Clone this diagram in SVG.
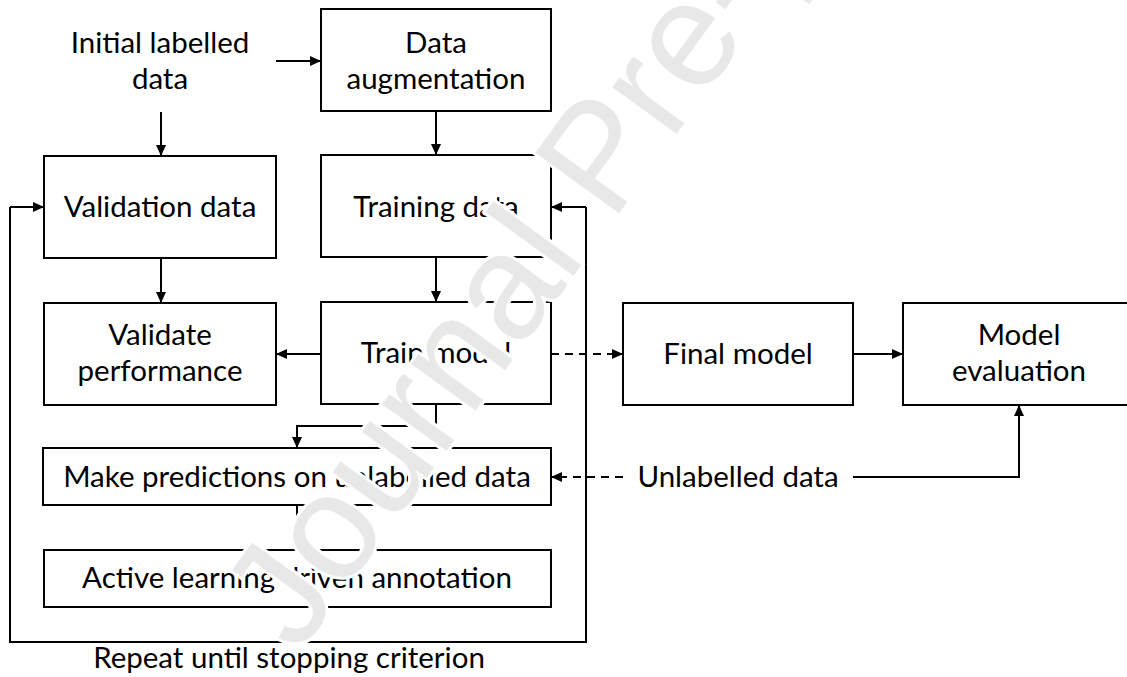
<svg xmlns="http://www.w3.org/2000/svg" width="1127" height="677" viewBox="0 0 1127 677">
  <defs>
    <marker id="arrow" markerUnits="userSpaceOnUse" markerWidth="11" markerHeight="10" refX="11" refY="5" orient="auto">
      <path d="M0,0 L11,5 L0,10 z" fill="#000"/>
    </marker>
    <style>
      .box { fill: #fff; stroke: #000; stroke-width: 2; }
      .lbl { font-family: Lato, "Liberation Sans", sans-serif; font-size: 29.5px; fill: #000; text-anchor: middle; }
      .edge { fill: none; stroke: #000; stroke-width: 2; marker-end: url(#arrow); }
      .plain { fill: none; stroke: #000; stroke-width: 2; }
      .dash { stroke-dasharray: 8 6; }
      .mark { font-family: "Liberation Sans", Arial, sans-serif; font-size: 150px; fill: #e8e8e8; stroke: #fff; stroke-width: 6; paint-order: stroke; }
    </style>
  </defs>
  <rect width="1127" height="677" fill="#fff"/>

  <!-- connectors -->
  <g id="connectors">
    <path class="edge" d="M276,61 H321"/>
    <path class="edge" d="M161,112 V156"/>
    <path class="edge" d="M436,111 V155"/>
    <path class="edge" d="M161,258 V303"/>
    <path class="edge" d="M436,257 V302"/>
    <path class="edge" d="M321,354 H276"/>
    <path class="edge dash" d="M551,354 H623"/>
    <path class="edge" d="M853,354 H903"/>
    <path class="edge" d="M436,404 V426 H297 V448"/>
    <path class="edge" d="M297,505 V550"/>
    <path class="edge dash" d="M623,477 H551"/>
    <path class="edge" d="M853,477 H1019 V405"/>
    <!-- feedback loop -->
    <path class="plain" d="M586,207 V642 H10 V207"/>
    <path class="edge" d="M10,207 H44"/>
    <path class="edge" d="M586,207 H551"/>
  </g>

  <g id="initial-labelled-data">
    <text class="lbl" x="160" y="53">Initial labelled</text>
    <text class="lbl" x="160" y="89">data</text>
  </g>

  <g id="data-augmentation">
    <rect class="box" x="321" y="9" width="230" height="102"/>
    <text class="lbl" x="436" y="53">Data</text>
    <text class="lbl" x="436" y="89">augmentation</text>
  </g>

  <g id="validation-data">
    <rect class="box" x="44" y="156" width="232" height="102"/>
    <text class="lbl" x="160" y="217">Validation data</text>
  </g>

  <g id="training-data">
    <rect class="box" x="321" y="155" width="230" height="102"/>
    <text class="lbl" x="436" y="217">Training data</text>
  </g>

  <g id="validate-performance">
    <rect class="box" x="44" y="303" width="232" height="102"/>
    <text class="lbl" x="160" y="345">Validate</text>
    <text class="lbl" x="160" y="381">performance</text>
  </g>

  <g id="train-model">
    <rect class="box" x="321" y="302" width="230" height="102"/>
    <text class="lbl" x="436" y="363">Train model</text>
  </g>

  <g id="final-model">
    <rect class="box" x="623" y="303" width="230" height="102"/>
    <text class="lbl" x="738" y="364">Final model</text>
  </g>

  <g id="model-evaluation">
    <rect class="box" x="903" y="303" width="232" height="102"/>
    <text class="lbl" x="1019" y="345">Model</text>
    <text class="lbl" x="1019" y="381">evaluation</text>
  </g>

  <g id="make-predictions">
    <rect class="box" x="43" y="448" width="508" height="57"/>
    <text class="lbl" x="297" y="487">Make predictions on unlabelled data</text>
  </g>

  <g id="unlabelled-data">
    <text class="lbl" x="738" y="487">Unlabelled data</text>
  </g>

  <g id="active-learning">
    <rect class="box" x="44" y="550" width="507" height="57"/>
    <text class="lbl" x="297" y="588">Active learning driven annotation</text>
  </g>

  <g id="repeat-label">
    <text class="lbl" x="289" y="668">Repeat until stopping criterion</text>
  </g>

  <!-- diagonal watermark -->
  <text class="mark" x="0" y="0" transform="translate(298,655) rotate(-54)">Journal Pre-proof</text>
</svg>
